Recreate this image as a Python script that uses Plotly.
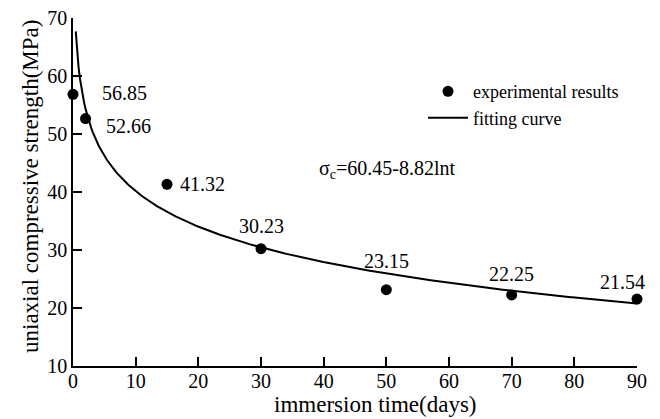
import numpy as np
import plotly.graph_objects as go

# ---- data ----
days = [0, 2, 15, 30, 50, 70, 90]
strength = [56.85, 52.66, 41.32, 30.23, 23.15, 22.25, 21.54]
# label offsets (pixels) for the value labels
label_dx = [27, 18, 11, 0, 0, 0, -15]
label_dy = [1, -7, 0, 23, 29, 21, 17]
label_anchor = ["left", "left", "left", "center", "center", "center", "center"]

fit_a = 60.45
fit_b = 8.82
x_ticks = [0, 10, 20, 30, 40, 50, 60, 70, 80, 90]
y_ticks = [10, 20, 30, 40, 50, 60, 70]

FONT = "Liberation Serif"

t_fit = np.linspace(0.44, 90, 400)
s_fit = fit_a - fit_b * np.log(t_fit)

fig = go.Figure()
fig.add_trace(go.Scatter(
    x=days, y=strength, mode="markers", name="experimental results",
    marker=dict(color="black", size=11), cliponaxis=False))
fig.add_trace(go.Scatter(
    x=t_fit, y=s_fit, mode="lines", name="fitting curve",
    line=dict(color="black", width=2), cliponaxis=False))

for x, y, dx, dy, anc in zip(days, strength, label_dx, label_dy, label_anchor):
    fig.add_annotation(x=x, y=y, text=f"{y:.2f}", showarrow=False,
                       xanchor=anc, yanchor="middle", xshift=dx, yshift=dy,
                       font=dict(family=FONT, size=20, color="black"))

fig.add_annotation(x=50.6, y=43.9, xshift=-3, text="σ<sub>c</sub>=60.45-8.82lnt", showarrow=False,
                   xanchor="center", yanchor="middle",
                   font=dict(family=FONT, size=20, color="black"))

# axis titles
fig.add_annotation(xref="paper", yref="paper", x=0.5, y=0, xshift=20, yshift=-38,
                   text="immersion time(days)", showarrow=False,
                   xanchor="center", yanchor="middle",
                   font=dict(family=FONT, size=23, color="black"))
fig.add_annotation(xref="paper", yref="paper", x=0, y=0.5, xshift=-43, yshift=5,
                   text="uniaxial compressive strength(MPa)", showarrow=False,
                   textangle=-90, xanchor="center", yanchor="middle",
                   font=dict(family=FONT, size=23, color="black"))

axis_common = dict(showline=True, linecolor="black", linewidth=1.5,
                   ticks="inside", ticklen=9, tickwidth=1.5, tickcolor="black",
                   showgrid=False, zeroline=False, automargin=False,
                   ticklabeloverflow="allow",
                   tickfont=dict(family=FONT, size=20, color="black"))

fig.update_xaxes(range=[0, 90], tickvals=x_ticks, ticklabelstandoff=-4, **axis_common)
fig.update_yaxes(range=[10, 70], tickvals=y_ticks, **axis_common)

# page body has an 8px margin; the figure is sized to fit inside it
fig.update_layout(
    width=652, height=411,
    margin=dict(l=65, r=23, t=10, b=53),
    plot_bgcolor="white", paper_bgcolor="white",
    showlegend=True,
    legend=dict(x=(423 - 73) / 564, y=1 - (73 - 18) / 347, xanchor="left", yanchor="top",
                itemwidth=40,
                font=dict(family=FONT, size=18, color="black"),
                bgcolor="rgba(0,0,0,0)", borderwidth=0),
)

fig.write_html("out.html")
